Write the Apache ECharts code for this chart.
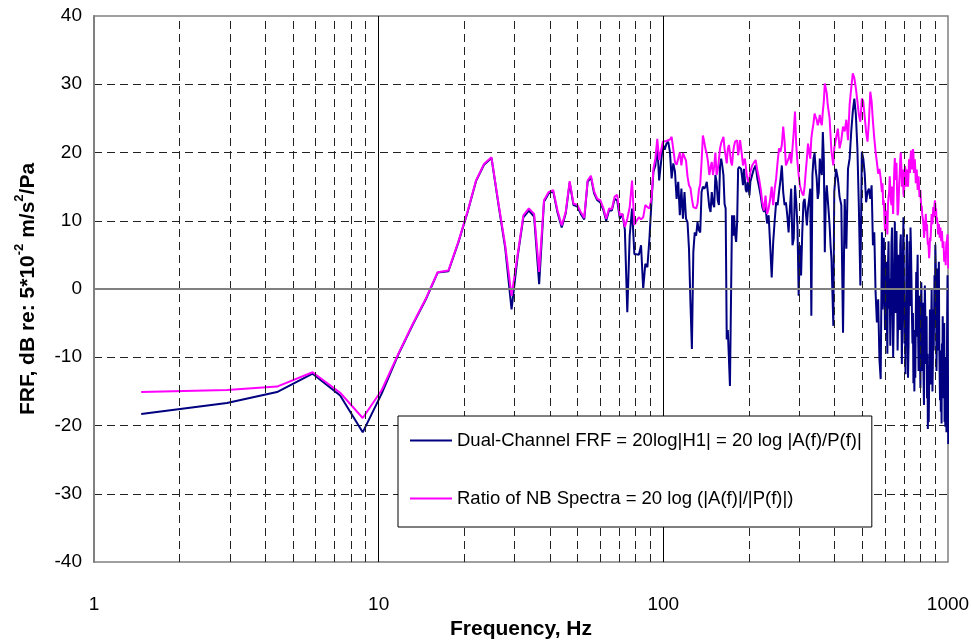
<!DOCTYPE html>
<html><head><meta charset="utf-8">
<script src="https://cdn.jsdelivr.net/npm/echarts@6/dist/echarts.min.js"></script>
<style>html,body{margin:0;padding:0;background:#fff}#c{width:971px;height:640px}</style>
</head><body><div id="c"></div>
<script>
// FFT bin width (Hz) and the bin grid of each data segment: [first bin, bin step]
const BIN_HZ = 1.465;
const SEG_A = [1, 1];
const SEG_B = [138, 2];
const SEG_C = [276, 4];
const SEG_D = [400, 2];

const seriesNames = [
  'Dual-Channel FRF = 20log|H1| = 20 log |A(f)/P(f)|',
  'Ratio of NB Spectra = 20 log (|A(f)|/|P(f)|)'
];
const xTicks = [1, 10, 100, 1000];
const xMinorGrid = [2,3,4,5,6,7,8,9,20,30,40,50,60,70,80,90,200,300,400,500,600,700,800,900];
const xMajorGrid = [10, 100];

// Dual-channel FRF (dB)
const dualA = [
-18.3,-16.7,-15.1,-12.4,-15.6,-21.0,-15.3,-9.6,-5.2,-1.5,
2.4,2.6,6.8,11.2,15.8,18.2,19.2,12.3,6.0,-3.0,
4.7,10.5,11.5,10.6,0.7,12.8,14.0,14.3,11.2,9.0,
11.1,15.6,12.3,12.1,11.0,10.2,15.7,16.4,14.0,13.0,
12.7,11.6,10.0,11.5,11.5,13.2,13.0,10.3,11.0,8.7,
-3.4,7.8,11.8,5.1,5.1,5.0,6.4,0.0,3.7,3.2,
7.4,12.7,17.2,18.1,21.1,15.9,15.8,21.2,20.4,21.3,
21.6,20.1,16.2,18.4,17.2,13.2,15.7,10.8,14.7,10.3,
14.2,10.3,9.8,5.9,-2.0,-8.8,5.4,8.3,7.8,9.8,
8.6,8.3,14.2,15.0,14.7,15.0,15.7,15.9,12.0,11.3,
14.2,12.5,12.0,16.7,15.7,13.0,12.3,18.1,19.1,18.0,
16.7,12.5,11.8,-7.4,-6.0,-5.9,-14.2,-1.5,10.8,7.8,
10.8,8.0,6.9,9.8,17.6,17.9,17.9,17.6,16.5,15.2,
17.6,17.6,14.5,14.2,15.7,15.0,13.7
];
const dualB = [
15.7,16.7,17.6,18.1,16.2,15.0,13.7,12.0,11.3,12.0,
9.6,10.8,6.4,1.7,6.9,10.0,12.7,12.3,14.2,15.9,
18.1,14.2,12.3,12.7,10.8,8.3,11.8,14.7,6.4,7.4,
15.2,12.7,9.3,-1.0,6.4,2.0,8.3,12.7,13.2,11.3,
9.3,11.8,13.2,14.7,-3.9,16.7,19.1,19.9,17.6,16.2,
13.2,14.2,19.1,17.6,16.7,23.0,19.1,5.4,13.2,15.2,
13.2,11.3,9.3,6.4,4.4,-0.5,-5.4,14.2
];
const dualC = [
17.6,16.2,13.5,12.3,-6.4,13.2,5.9,17.6,19.1,23.0,
26.0,27.9,25.5,20.6,11.8,0.5,20.1,19.1,16.9,12.7,
14.2,14.7,13.2,15.2,6.4,8.3,-0.5,-4.9,-1.5,-10.3,
-13.2
];
const dualD = [
8.3,-3.0,0.0,7.5,3.4,-6.0,-0.5,4.0,-4.4,-9.5,
3.4,7.0,-2.9,1.5,-8.3,-2.0,6.4,9.0,-1.5,-10.0,
-4.9,3.0,9.9,-3.5,4.0,8.5,2.0,-9.0,-4.5,5.0,
1.0,-6.0,6.5,8.0,-2.0,-11.0,-2.5,4.5,10.5,0.5,
-8.0,-3.0,-12.5,-4.0,5.5,8.0,-3.0,-13.0,-8.5,0.0,
7.0,-2.5,9.0,6.0,1.0,-4.0,-8.0,-3.5,-13.8,-8.0,
-15.0,-6.0,-13.0,-4.0,2.5,-7.0,1.5,5.0,-6.0,-12.0,
-8.0,-1.0,-8.9,-14.5,-5.5,1.0,-4.0,-12.0,-9.0,-2.0,
-13.0,-17.0,-6.0,0.5,-3.5,-9.0,-11.0,-4.0,-16.0,-9.5,
-20.5,-12.0,-19.5,-14.0,-11.0,-3.0,-7.5,-14.0,-5.0,0.0,
-6.5,-15.0,-10.5,-3.0,-9.0,-4.0,2.0,-5.0,6.5,4.0,
-2.0,-12.0,-6.5,3.0,-1.0,-9.0,1.0,4.0,-8.0,-12.5,
-16.3,-9.0,-18.0,-12.0,-19.7,-8.0,-14.0,-4.0,-9.0,-16.0,
-12.0,-5.0,-19.5,-14.0,-20.2,-10.0,-15.5,-21.0,-13.0,-4.0,
2.0,-10.0,-22.7
];

// Ratio of narrow-band spectra (dB)
const ratioA = [
-15.1,-14.8,-14.3,-12.2,-15.2,-18.9,-14.8,-9.5,-5.1,-1.4,
2.45,2.7,6.9,11.3,15.9,18.3,19.3,12.5,6.4,-1.0,
5.0,10.8,11.8,11.0,2.5,13.0,14.2,14.5,11.5,9.3,
11.3,15.8,12.5,12.35,11.3,10.4,15.9,16.6,14.3,13.2,
13.0,11.9,10.3,11.8,11.7,13.5,13.8,10.8,11.0,9.1,
10.3,12.0,15.9,9.4,10.0,10.5,10.2,10.5,12.3,12.0,
11.8,13.2,17.6,19.1,22.0,18.9,19.1,21.6,21.6,21.7,
21.7,21.9,22.3,22.3,18.6,18.2,18.1,20.0,18.1,19.9,
19.9,18.8,16.5,15.2,14.8,13.2,12.0,11.8,11.8,12.5,
14.5,15.4,18.6,22.5,21.6,20.5,19.8,18.6,16.7,17.8,
18.6,16.7,18.0,20.0,16.7,17.4,17.6,20.6,21.4,21.8,
22.3,20.5,19.5,18.4,20.5,21.1,20.0,18.6,18.1,20.0,
21.0,21.6,21.8,21.8,19.6,20.5,21.8,21.6,19.5,18.1,
18.8,19.1,18.0,16.7,16.0,15.7,16.2
];
const ratioB = [
17.2,18.1,17.9,18.9,17.4,16.2,14.7,12.7,11.5,13.7,
11.0,11.8,13.2,15.0,12.3,14.7,16.2,18.6,20.6,20.1,
21.1,23.8,21.6,18.1,18.1,19.1,19.9,18.4,20.6,23.0,
26.0,21.1,18.6,16.7,15.2,14.5,14.0,13.7,15.0,17.2,
19.1,21.3,20.1,19.1,22.1,23.3,24.3,25.7,25.2,24.8,
24.0,24.5,25.5,24.5,24.0,26.0,27.5,30.1,29.4,28.7,
27.0,26.0,25.0,22.5,20.1,19.1,18.1,20.6
];
const ratioC = [
22.1,23.5,20.6,21.8,23.8,23.1,24.8,21.8,27.0,29.4,
31.6,30.9,29.4,27.5,25.5,24.5,27.9,27.5,25.2,23.0,
21.6,24.5,28.9,27.5,24.5,22.1,20.1,18.6,16.9,17.6,
16.2
];
const ratioD = [
14.2,15.5,12.3,13.0,10.8,8.5,10.0,11.5,9.8,8.0,
12.3,13.5,14.2,16.5,14.7,13.0,12.3,15.0,12.7,11.0,
14.2,17.5,19.2,16.0,17.0,18.5,14.5,10.8,11.2,13.0,
15.5,17.0,19.0,20.0,18.0,15.0,16.0,17.5,14.0,13.5,
16.5,18.0,17.5,15.0,16.0,17.5,16.2,15.0,16.8,19.0,
18.5,17.0,19.2,20.3,19.0,17.5,19.5,20.5,20.0,17.0,
18.5,19.0,17.5,15.5,16.5,17.5,16.0,14.5,15.8,16.5,
15.0,13.5,13.8,14.5,13.0,11.5,12.2,11.0,10.5,10.0,
9.2,7.5,8.2,10.0,9.0,11.0,10.0,8.5,9.5,7.5,
6.5,7.0,5.8,4.5,5.5,7.5,7.0,8.0,9.5,11.0,
10.2,9.5,10.8,12.0,11.5,10.5,12.3,13.0,12.5,11.0,
11.8,9.8,10.5,10.0,9.5,8.0,8.9,9.5,8.6,7.5,
8.4,9.0,8.0,7.0,7.9,8.5,7.2,6.0,6.5,7.0,
5.5,4.0,4.6,5.5,4.8,3.5,5.8,7.0,6.5,7.5,
8.0,6.0,3.0
];

function toPairs(vals, seg) {
  return vals.map((v, i) => [(seg[0] + i * seg[1]) * BIN_HZ, v]);
}
const dualData = [].concat(toPairs(dualA, SEG_A), toPairs(dualB, SEG_B), toPairs(dualC, SEG_C), toPairs(dualD, SEG_D));
const ratioData = [].concat(toPairs(ratioA, SEG_A), toPairs(ratioB, SEG_B), toPairs(ratioC, SEG_C), toPairs(ratioD, SEG_D));

const FONT = "'Liberation Sans', Arial, sans-serif";
const chart = echarts.init(document.getElementById('c'), null, {renderer: 'canvas'});

const gridMarks = xMinorGrid.map(v => ({xAxis: v, lineStyle: {color: '#222', width: 1, type: [8, 5]}}))
  .concat(xMajorGrid.map(v => ({xAxis: v, lineStyle: {color: '#000', width: 1, type: 'solid'}})))
  .concat([{yAxis: 0, lineStyle: {color: '#808080', width: 2, type: 'solid'}}]);

chart.setOption({
  animation: false,
  backgroundColor: '#fff',
  textStyle: {fontFamily: FONT},
  grid: {left: 94, right: 23, top: 16, bottom: 78, containLabel: false, outerBoundsMode: 'none',
         show: true, borderColor: '#808080', borderWidth: 1.5},
  legend: {
    data: seriesNames, orient: 'vertical', left: 398, top: 416, z: 100,
    icon: 'rect', itemWidth: 42, itemHeight: 2, itemGap: 39,
    padding: [15, 10, 19, 12],
    borderColor: '#000', borderWidth: 1, backgroundColor: '#ffffff',
    textStyle: {fontSize: 18.5, color: '#000', fontFamily: FONT},
    selectedMode: false
  },
  xAxis: {
    type: 'log', logBase: 10, min: xTicks[0], max: xTicks[xTicks.length - 1],
    axisLine: {show: true, lineStyle: {color: '#808080', width: 2}},
    axisTick: {show: false},
    splitLine: {show: false},
    axisLabel: {fontSize: 19, color: '#000', margin: 33, fontFamily: FONT,
                formatter: v => String(Math.round(v))},
    name: 'Frequency, Hz', nameLocation: 'middle', nameGap: 55,
    nameTextStyle: {fontSize: 21, fontWeight: 'bold', color: '#000', fontFamily: FONT}
  },
  yAxis: {
    type: 'value', min: -40, max: 40, interval: 10,
    axisLine: {show: true, lineStyle: {color: '#808080', width: 2}},
    axisTick: {show: false},
    axisLabel: {fontSize: 19, color: '#000', margin: 12, fontFamily: FONT},
    splitLine: {show: true, showMinLine: false, showMaxLine: false,
                lineStyle: {color: '#222', width: 1, type: [8, 5]}},
    name: '{t|FRF, dB re: 5*10}{s|-2}{t| m/s}{s|2}{t|/Pa}',
    nameLocation: 'middle', nameRotate: 90, nameGap: 55,
    nameTextStyle: {
      rich: {
        t: {fontSize: 21, fontWeight: 'bold', color: '#000', fontFamily: FONT, lineHeight: 26, verticalAlign: 'bottom'},
        s: {fontSize: 13, fontWeight: 'bold', color: '#000', fontFamily: FONT, lineHeight: 14, verticalAlign: 'top'}
      }
    }
  },
  series: [
    {
      name: 'grid', type: 'line', data: [], z: 1, silent: true,
      markLine: {silent: true, symbol: ['none', 'none'], label: {show: false}, animation: false, data: gridMarks}
    },
    {
      name: seriesNames[0], type: 'line', data: dualData, z: 2,
      showSymbol: false, symbol: 'none', sampling: null,
      lineStyle: {color: '#000080', width: 2}, itemStyle: {color: '#000080'}
    },
    {
      name: seriesNames[1], type: 'line', data: ratioData, z: 3,
      showSymbol: false, symbol: 'none', sampling: null,
      lineStyle: {color: '#FF00FF', width: 2}, itemStyle: {color: '#FF00FF'}
    }
  ]
});
</script>
</body></html>
